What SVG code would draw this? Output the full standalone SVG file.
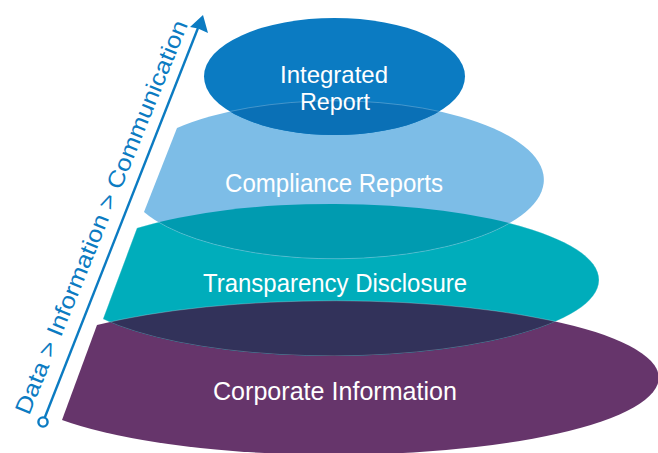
<svg xmlns="http://www.w3.org/2000/svg" width="658" height="453" viewBox="0 0 658 453">
<style>
.lbl{font-family:"Liberation Sans",Arial,sans-serif;font-size:26px;fill:#ffffff;text-anchor:middle}
.top{font-size:24px}
.axis{font-family:"Liberation Sans",Arial,sans-serif;font-size:23px;fill:#0b7bc2}
.seam{stroke:#ffffff;stroke-opacity:0.3;stroke-width:0.8}
</style>
<defs>
<path id="pTop" d="M204,76.5 A130.5,58.5 0 1,1 465,76.5 A130.5,58.5 0 1,1 204,76.5 Z"/>
<path id="pComp" d="M177,128 A209,79 0 1,1 144,212 Z"/>
<path id="pTeal" d="M137,228 A267,76 0 1,1 103,319 Z"/>
<path id="pPurp" d="M97,325 A325,77 0 1,1 62,420 Z"/>
<clipPath id="cTop"><use href="#pTop"/></clipPath>
<clipPath id="cComp"><use href="#pComp"/></clipPath>
<clipPath id="cTeal"><use href="#pTeal"/></clipPath>
</defs>
<rect width="658" height="453" fill="#ffffff"/>
<g id="corporate-information">
<use href="#pPurp" fill="#66356b"/>
</g>
<g id="transparency-disclosure">
<use href="#pTeal" fill="#00adbb"/>
<use href="#pPurp" fill="#32325a" class="seam" clip-path="url(#cTeal)"/>
<use href="#pTeal" fill="none" class="seam" clip-path="url(#cTeal)"/>
</g>
<g id="compliance-reports">
<use href="#pComp" fill="#7dbde7"/>
<use href="#pComp" fill="#009bb0" class="seam" clip-path="url(#cTeal)"/>
</g>
<g id="integrated-report">
<use href="#pTop" fill="#0b7bc2"/>
<use href="#pComp" fill="#0a70b6" class="seam" clip-path="url(#cTop)"/>
</g>
<g id="labels">
<text class="lbl top" x="334" y="83" textLength="108" lengthAdjust="spacingAndGlyphs">Integrated</text>
<text class="lbl top" x="335" y="110" textLength="70" lengthAdjust="spacingAndGlyphs">Report</text>
<text class="lbl" x="334" y="192" textLength="218" lengthAdjust="spacingAndGlyphs">Compliance Reports</text>
<text class="lbl" x="335" y="292" textLength="264" lengthAdjust="spacingAndGlyphs">Transparency Disclosure</text>
<text class="lbl" x="335" y="400" textLength="244" lengthAdjust="spacingAndGlyphs">Corporate Information</text>
</g>
<g id="connectors">
<line x1="44.7" y1="417.8" x2="198" y2="28" stroke="#0b7bc2" stroke-width="2.4"/>
<polygon points="203,15 208,33 198,28.5 190,27" fill="#0b7bc2"/>
<circle cx="43" cy="422" r="4.6" fill="#ffffff" stroke="#0b7bc2" stroke-width="2.4"/>
<text class="axis" transform="translate(29,416) rotate(-67.9)" x="0" y="0" textLength="423" lengthAdjust="spacingAndGlyphs">Data &gt; Information &gt; Communication</text>
</g>
</svg>
